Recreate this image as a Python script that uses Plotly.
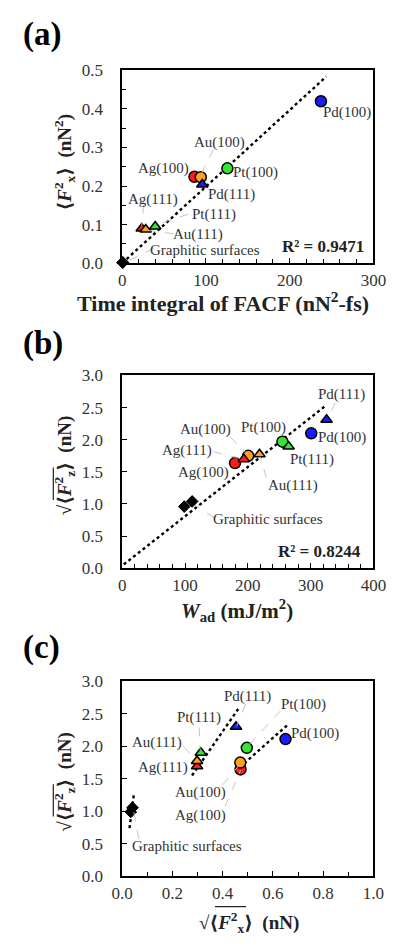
import plotly.graph_objects as go

# ---------------- data ----------------
surfaces = ["Ag(100)", "Au(100)", "Pt(100)", "Pd(100)", "Ag(111)", "Au(111)", "Pt(111)", "Pd(111)"]
surface_colors = ["#ff1a1a", "#ffa01e", "#33e633", "#1a1aff", "#ff1a1a", "#ffa01e", "#33e633", "#1a1aff"]
surface_symbols = ["circle", "circle", "circle", "circle",
                   "triangle-up", "triangle-up", "triangle-up", "triangle-up"]

# (a) time integral of FACF vs <Fx^2>
facf_integral = [86.3, 93.8, 125.6, 237.3, 23.3, 28.1, 39.4, 95.6]
fx2_mean = [0.224, 0.223, 0.246, 0.420, 0.090, 0.087, 0.095, 0.204]
graphitic_facf = [0.4, 0.8]
graphitic_fx2 = [0.0012, 0.0017]
fit_a_x = [0, 243.7]
fit_a_y = [0, 0.484]

# (b) W_ad vs sqrt(<Fz^2>)
w_ad = [179.6, 200.6, 255.1, 301.0, 193.7, 218.6, 265.0, 325.4]
fz_rms_b = [1.637, 1.750, 1.970, 2.100, 1.698, 1.775, 1.896, 2.310]
graphitic_wad = [98.8, 111.4]
graphitic_fz_b = [0.96, 1.04]
fit_b_x = [2.5, 324]
fit_b_y = [0.06, 2.53]

# (c) sqrt(<Fx^2>) vs sqrt(<Fz^2>)
fx_rms = [0.471, 0.470, 0.496, 0.650, 0.298, 0.298, 0.313, 0.453]
fz_rms_c = [1.643, 1.749, 1.975, 2.110, 1.693, 1.774, 1.900, 2.300]
graphitic_fx_c = [0.034, 0.041]
graphitic_fz_c = [0.99, 1.055]
fit_c100_x = [0.45, 0.659]
fit_c100_y = [1.615, 2.33]
fit_c111_x = [0.278, 0.463]
fit_c111_y = [1.55, 2.58]
fit_cg_x = [0.029, 0.046]
fit_cg_y = [0.74, 1.25]

r2_a = "R² = 0.9471"
r2_b = "R² = 0.8244"

# ---------------- layout helpers ----------------
W, H = 401, 947
FONT = "'Liberation Serif', 'Times New Roman', Tinos, 'DejaVu Serif', serif"


def px(x):
    return x / W


def py(y):
    return 1 - y / H


fig = go.Figure()

panels = [
    dict(xa="x", ya="y", xs=facf_integral, ys=fx2_mean, gx=graphitic_facf, gy=graphitic_fx2),
    dict(xa="x2", ya="y2", xs=w_ad, ys=fz_rms_b, gx=graphitic_wad, gy=graphitic_fz_b),
    dict(xa="x3", ya="y3", xs=fx_rms, ys=fz_rms_c, gx=graphitic_fx_c, gy=graphitic_fz_c),
]

fits = [
    ("x", "y", fit_a_x, fit_a_y),
    ("x2", "y2", fit_b_x, fit_b_y),
    ("x3", "y3", fit_c100_x, fit_c100_y),
    ("x3", "y3", fit_c111_x, fit_c111_y),
    ("x3", "y3", fit_cg_x, fit_cg_y),
]
for xa, ya, fx, fy in fits:
    fig.add_trace(go.Scatter(x=fx, y=fy, xaxis=xa, yaxis=ya, mode="lines",
                             line=dict(color="black", width=2.4, dash="dot"),
                             showlegend=False, hoverinfo="skip"))

for p in panels:
    fig.add_trace(go.Scatter(x=p["gx"], y=p["gy"], xaxis=p["xa"], yaxis=p["ya"], mode="markers",
                             marker=dict(symbol="diamond", size=9, color="black",
                                         line=dict(color="black", width=1)),
                             cliponaxis=False, showlegend=False))
    for i, name in enumerate(surfaces):
        fig.add_trace(go.Scatter(x=[p["xs"][i]], y=[p["ys"][i]], xaxis=p["xa"], yaxis=p["ya"],
                                 mode="markers", name=name,
                                 marker=dict(symbol=surface_symbols[i], size=11 if i < 4 else 10,
                                             color=surface_colors[i],
                                             line=dict(color="black", width=1.5)),
                                 cliponaxis=False, showlegend=False))

# labels: (text, x, y) in data coords, with optional leader line (x0,y0,x1,y1)
labels_a = [
    ("Pd(100)", 268, 0.39, None),
    ("Au(100)", 116.3, 0.314, (108.8, 0.295, 94.5, 0.232)),
    ("Ag(100)", 48.8, 0.246, None),
    ("Pt(100)", 159.4, 0.234, None),
    ("Pd(111)", 130, 0.178, None),
    ("Ag(111)", 36.8, 0.166, (25.5, 0.151, 23.3, 0.097)),
    ("Pt(111)", 110, 0.127, (78.7, 0.127, 41.3, 0.100)),
    ("Au(111)", 90, 0.0746, (61.2, 0.076, 30, 0.085)),
    ("Graphitic surfaces", 99.4, 0.034, (37.6, 0.038, 2, 0.0)),
]
labels_b = [
    ("Pd(111)", 349.4, 2.70, (339.4, 2.577, 327, 2.33)),
    ("Pd(100)", 349.4, 2.03, None),
    ("Pt(100)", 224.6, 2.195, None),
    ("Pt(111)", 302, 1.687, None),
    ("Au(100)", 132.3, 2.155, (172, 2.04, 198.7, 1.78)),
    ("Ag(111)", 102.4, 1.83, (144.8, 1.815, 191, 1.70)),
    ("Ag(100)", 129.8, 1.494, None),
    ("Au(111)", 272, 1.29, (229.6, 1.41, 219.6, 1.74)),
    ("Graphitic surfaces", 232, 0.762, (147.3, 0.78, 116.3, 0.976)),
]
labels_c = [
    ("Pd(111)", 0.50, 2.76, (0.491, 2.65, 0.456, 2.31)),
    ("Pt(100)", 0.721, 2.64, (0.629, 2.54, 0.504, 2.02)),
    ("Pd(100)", 0.766, 2.20, None),
    ("Pt(111)", 0.306, 2.44, (0.306, 2.29, 0.31, 1.945)),
    ("Au(111)", 0.1376, 2.06, (0.244, 1.995, 0.294, 1.79)),
    ("Ag(111)", 0.163, 1.673, None),
    ("Au(100)", 0.313, 1.29, (0.40, 1.405, 0.466, 1.71)),
    ("Ag(100)", 0.313, 0.94, (0.409, 1.07, 0.471, 1.63)),
    ("Graphitic surfaces", 0.256, 0.467, (0.066, 0.577, 0.044, 1.03)),
]

annotations = []
shapes = []
for (xa, ya, labels) in [("x", "y", labels_a), ("x2", "y2", labels_b), ("x3", "y3", labels_c)]:
    for text, lx, ly, lead in labels:
        annotations.append(dict(x=lx, y=ly, xref=xa, yref=ya, text=text, showarrow=False,
                                xanchor="center", yanchor="middle",
                                font=dict(family=FONT, size=15, color="#333333")))
        if lead:
            shapes.append(dict(type="line", xref=xa, yref=ya, x0=lead[0], y0=lead[1],
                               x1=lead[2], y1=lead[3],
                               line=dict(color="#bdbdbd", width=0.9, dash="dash")))

annotations.append(dict(x=291.3, y=0.042, xref="x", yref="y", text="<b>" + r2_a + "</b>",
                        xanchor="right", yanchor="middle", showarrow=False,
                        font=dict(family=FONT, size=17, color="#222222")))
annotations.append(dict(x=384, y=0.265, xref="x2", yref="y2", text="<b>" + r2_b + "</b>",
                        xanchor="right", yanchor="middle", showarrow=False,
                        font=dict(family=FONT, size=17, color="#222222")))

# panel letters
for letter, yc in [("(a)", 26), ("(b)", 341), ("(c)", 652)]:
    annotations.append(dict(x=px(11), y=py(yc), xref="paper", yref="paper", xanchor="left",
                            yanchor="middle",
                            text="<b>" + letter + "</b>", showarrow=False,
                            font=dict(family=FONT, size=33, color="black")))


def title(x, y, text, size=19, angle=0):
    annotations.append(dict(x=px(x), y=py(y), xref="paper", yref="paper", showarrow=False,
                            xanchor="center", yanchor="middle", textangle=angle,
                            text=text, font=dict(family=FONT, size=size, color="#222222")))


# x-axis titles
title(226, 299, "<b>Time integral of FACF (nN<sup>2</sup>-fs)</b>", 22)
title(240, 614, "<b><i>W</i><sub>ad</sub> (mJ/m<sup>2</sup>)</b>", 21)
title(253, 932, "<b>√⟨<i>F</i><sup>2</sup><sub>x</sub>⟩  (nN)</b>", 19)
# y-axis titles
title(57, 157, "<b>⟨<i>F</i><sup>2</sup><sub>x</sub>⟩  (nN<sup>2</sup>)</b>", 19, -90)
title(57, 466, "<b>√⟨<i>F</i><sup>2</sup><sub>z</sub>⟩  (nN)</b>", 19, -90)
title(57, 789, "<b>√⟨<i>F</i><sup>2</sup><sub>z</sub>⟩  (nN)</b>", 19, -90)

# radical overbars
for (x0, y0, x1, y1) in [(45, 501, 45, 468), (45, 824, 45, 791), (217, 916, 250, 916)]:
    shapes.append(dict(type="line", xref="paper", yref="paper", x0=px(x0), y0=py(y0),
                       x1=px(x1), y1=py(y1), line=dict(color="#222222", width=1.2)))

xdom = [px(118.3), px(385.5)]
tickfont = dict(family=FONT, size=17, color="#333333")


def xaxis(rng, dtick, minor, anchor, fmt):
    return dict(domain=xdom, range=rng, anchor=anchor, dtick=dtick, tick0=0, tickmode="linear",
                ticks="inside", ticklen=5, tickwidth=1.2, tickcolor="black",
                minor=dict(dtick=minor, ticks="inside", ticklen=4, tickwidth=1.2, tickcolor="black"),
                showline=True, linecolor="black", linewidth=1.6, mirror=True,
                showgrid=False, zeroline=False, tickfont=tickfont, tickformat=fmt,
                ticklabelstandoff=1)


def yaxis(rng, dtick, minor, anchor, dom):
    d = dict(domain=dom, range=rng, anchor=anchor, dtick=dtick, tick0=0, tickmode="linear",
             ticks="inside", ticklen=5, tickwidth=1.2, tickcolor="black",
             showline=True, linecolor="black", linewidth=1.6, mirror=True,
             showgrid=False, zeroline=False, tickfont=tickfont, tickformat=".1f",
             ticklabelstandoff=14)
    if minor:
        d["minor"] = dict(dtick=minor, ticks="inside", ticklen=4, tickwidth=1.2, tickcolor="black")
    return d


fig.update_layout(
    width=W, height=H, margin=dict(l=0, r=0, t=0, b=0),
    paper_bgcolor="white", plot_bgcolor="white", showlegend=False,
    font=dict(family=FONT),
    xaxis=xaxis([0, 300], 100, 20, "y", "d"),
    yaxis=yaxis([0, 0.5], 0.1, 0.05, "x", [py(259.3), py(62.7)]),
    xaxis2=xaxis([0, 400], 100, 20, "y2", "d"),
    yaxis2=yaxis([0, 3], 0.5, None, "x2", [py(570.7), py(374)]),
    xaxis3=xaxis([0, 1], 0.2, 0.1, "y3", ".1f"),
    yaxis3=yaxis([0, 3], 0.5, None, "x3", [py(885), py(686)]),
    annotations=annotations, shapes=shapes,
)

fig.write_html("out.html")
